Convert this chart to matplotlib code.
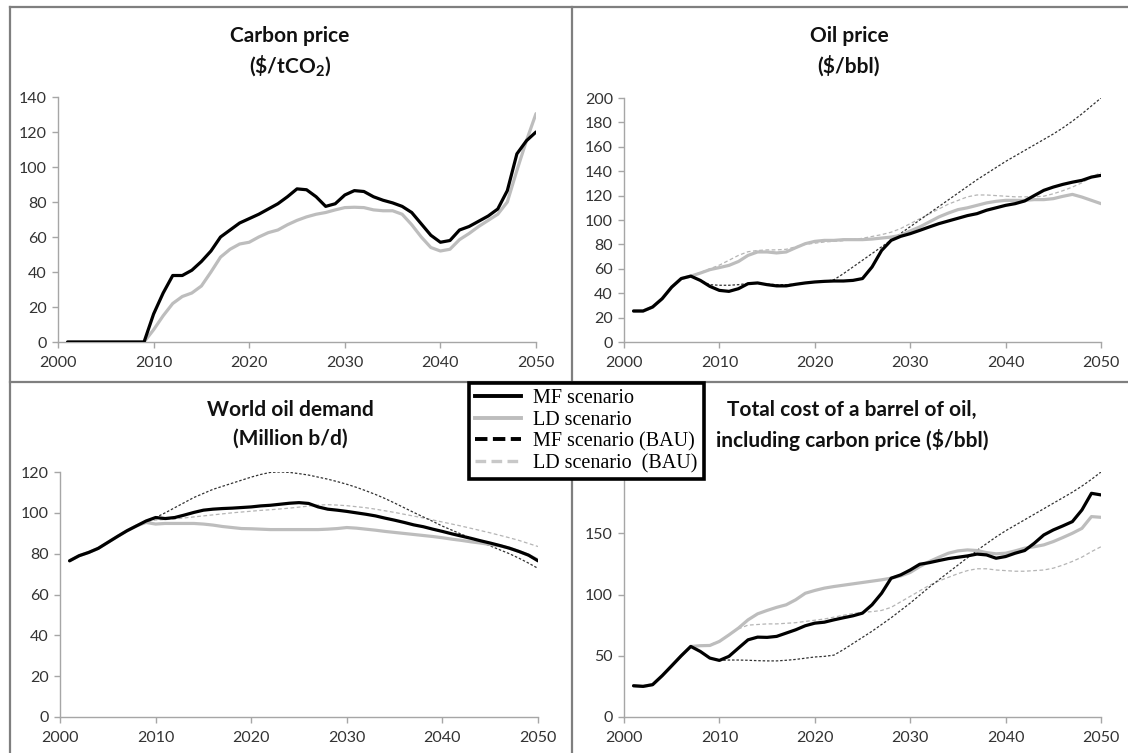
import numpy as np
import matplotlib
matplotlib.use('Agg')
import matplotlib.pyplot as plt
from matplotlib.lines import Line2D

plt.rcParams['font.family'] = ['Lato', 'DejaVu Sans']
plt.rcParams['mathtext.fontset'] = 'custom'
plt.rcParams['mathtext.rm'] = 'Lato'
plt.rcParams['mathtext.bf'] = 'Lato:bold'

years = np.arange(2001, 2051)

# Carbon price ($/tCO2)
carbon_mf = [0, 0, 0, 0, 0, 0, 0, 0, 0,
             16, 28, 38, 38, 41, 46, 52, 60, 64, 68,
             70.5, 73, 76, 79, 83, 87.5, 87, 83, 77.5, 79,
             84, 86.5, 86, 83, 81, 79.5, 77.5, 74, 67.5, 61,
             57, 58, 64, 66, 69, 72, 76, 86.5, 107.5, 115,
             120]
carbon_ld = [0, 0, 0, 0, 0, 0, 0, 0, 0,
             7, 15, 22, 26, 28, 32, 40, 48.5, 53, 56,
             57, 60, 62.5, 64, 67, 69.5, 71.5, 73, 74, 75.5,
             76.8, 77, 76.8, 75.5, 75, 75, 73, 67, 60, 54,
             52, 53, 58.5, 62, 66, 69.5, 73, 80, 98, 115,
             130.5]

# Oil price ($/bbl)
oil_mf = [25.4, 25.4, 28.7, 35.5, 45, 52, 54, 50.5, 45.6,
          42.3, 41.5, 43.7, 47.8, 48.4, 47, 46, 46, 47.3, 48.4,
          49.2, 49.7, 50, 50, 50.5, 52, 61.5, 75, 83.3, 86.6,
          88.8, 91.5, 94.3, 97, 99.2, 101.4, 103.6, 105.2, 108, 110,
          112, 113.4, 115.6, 120, 124.3, 127, 129.2, 131, 132.5, 135.2,
          136.6]
oil_ld = [25.4, 25.4, 28.7, 35.5, 45, 52, 54, 56.5, 59.3,
          61, 62.8, 66, 71, 73.8, 73.8, 73, 73.8, 77.3, 80.6,
          82.5, 83.3, 83.3, 83.9, 83.9, 83.9, 84.4, 85.2, 86, 87.4,
          91, 94.3, 98.4, 102.5, 105.7, 108.5, 110, 112, 114, 115.3,
          116.1, 116.1, 116.1, 116.7, 116.7, 117.5, 119.4, 121, 118.8, 116.1,
          113.4]
oil_mf_bau = [25.4, 25.4, 28.7, 35.5, 45, 52, 54, 50.5, 47,
              46.5, 46.5, 47, 48, 48, 47.5, 47, 47, 47.5, 48.5,
              49, 49.5, 51, 56, 61.5, 67, 72.5, 78, 83.5, 89,
              94.5, 100, 105.5, 111, 116.5, 122, 127.5, 133, 138, 143,
              148, 152.5, 157, 161.5, 166, 170.5, 175.5, 181, 187, 193.5,
              200]
oil_ld_bau = [25.4, 25.4, 28.7, 35.5, 45, 52, 54, 57, 60,
              63, 67, 71, 74, 75, 75.5, 75.5, 76, 78, 80,
              81, 82, 82.5, 83, 84, 85, 86.5, 88, 90, 93,
              97, 101, 105, 109, 113, 116, 119, 120.5, 120.5, 120,
              119.5, 119, 119, 119, 119.5, 121.5, 124, 127, 130.5, 135,
              139]

# World oil demand (Million b/d)
dem_mf = [76.5, 79, 80.6, 82.6, 85.5, 88.4, 91.2, 93.6, 96,
          97.7, 97.2, 97.7, 98.9, 100.2, 101.3, 101.8, 102.1, 102.3, 102.6,
          102.9, 103.4, 103.7, 104.2, 104.7, 105, 104.6, 102.9, 101.8, 101.3,
          100.7, 100, 99.3, 98.5, 97.4, 96.4, 95.3, 94.1, 93.2, 92,
          90.9, 89.7, 88.6, 87.5, 86.3, 85.2, 84, 82.7, 81.1, 79.3,
          76.5]
dem_ld = [76.5, 79, 80.6, 82.6, 85.5, 88.4, 91.2, 93.6, 95.3,
          94.5, 94.8, 94.8, 94.8, 94.8, 94.5, 94, 93.3, 92.8, 92.3,
          92.2, 92, 91.8, 91.8, 91.8, 91.8, 91.8, 91.8, 92, 92.3,
          92.8, 92.5, 92, 91.5, 90.9, 90.4, 89.9, 89.4, 88.9, 88.4,
          87.8, 87.1, 86.5, 85.8, 85.2, 84.5, 83.9, 82.7, 81.1, 79.3,
          76.9]
dem_mf_bau = [76.5, 79, 80.6, 82.6, 85.5, 88.4, 91.2, 93.6, 96,
              97.7, 100, 102.5, 105, 107.5, 109.5, 111.5, 113, 114.5, 116,
              117.5, 118.8, 119.8, 120, 119.8, 119.2, 118.5, 117.5, 116.5, 115.3,
              114, 112.5, 110.8, 109, 107, 104.8, 102.5, 100.2, 98, 95.8,
              93.5, 91.5, 89.5, 87.6, 85.7, 83.8, 81.9, 80, 77.8, 75.4,
              72.8]
dem_ld_bau = [76.5, 79, 80.6, 82.6, 85.5, 88.4, 91.2, 93.6, 95.5,
              96.5, 96.7, 97, 97.5, 98, 98.5, 99, 99.5, 100, 100.4,
              100.8, 101.2, 101.5, 101.9, 102.3, 102.8, 103.3, 103.8, 104, 103.8,
              103.5, 103, 102.5, 101.8, 101, 100.2, 99.3, 98.4, 97.5, 96.5,
              95.5, 94.5, 93.5, 92.4, 91.3, 90.2, 89, 87.8, 86.5, 85,
              83.5]

# Total cost of a barrel incl. carbon price ($/bbl)
tot_mf = [25.5, 25, 26.4, 33.7, 41.8, 50, 57.6, 53.5, 48.1,
          46.2, 49.5, 56.3, 63, 65.2, 65, 65.8, 68.5, 71.2, 74.5,
          76.6, 77.4, 79.3, 81, 82.6, 84.8, 91.6, 101, 113.3, 116,
          120, 124.7, 126, 127.7, 129.3, 130.4, 131.5, 133, 132.3, 129.6,
          131, 133.7, 135.9, 141.8, 148.6, 152.7, 156, 159.5, 169, 182.6,
          181.3]
tot_ld = [25.5, 25, 26.4, 33.7, 41.8, 50, 57.6, 58.2, 58.4,
          61.7, 67, 72.6, 79.3, 84.2, 87, 89.5, 91.6, 95.7, 101,
          103.3, 105.2, 106.5, 107.6, 108.7, 109.8, 110.9, 112, 113.3, 115.2,
          118, 122.8, 126.9, 130.4, 133.7, 135.6, 136.4, 135.9, 134.2, 133.2,
          133.7, 135.6, 137.8, 139, 140.5, 143.2, 146.5, 150, 154, 163.6,
          163]
tot_mf_bau = [25.5, 25, 26.4, 33.7, 41.8, 50, 57.6, 53.5, 48.1,
              46.2, 46.5, 46.5, 46.3, 46, 45.8, 45.8, 46.3, 47, 48,
              49, 49.5, 50.5, 55, 60, 65, 70, 75.5, 81, 87,
              93, 99.5, 106, 112, 118, 124, 130, 136, 141.5, 147,
              152, 156.5, 161, 165.5, 170, 174.5, 179, 183.5, 188.5, 194,
              200]
tot_ld_bau = [25.5, 25, 26.4, 33.7, 41.8, 50, 57.6, 58, 59,
              62, 67, 72, 75, 75.5, 76, 76, 76.5, 77, 78,
              79, 80, 81.5, 83, 84.5, 85.5, 86, 87, 89.5, 94,
              98.5, 103, 107.5, 111, 114, 117, 119.5, 121, 121, 120,
              119.5, 119, 119, 119.5, 120, 121.5, 124, 127, 130.5, 135,
              139]

W, H = 1128, 753
fig = plt.figure(figsize=(W / 100, H / 100), dpi=100)

MF_C = '#000000'
LD_C = '#bdbdbd'


def px_axes(x0, x1, ytop, ybot):
    return fig.add_axes([x0 / W, 1 - ybot / H, (x1 - x0) / W, (ybot - ytop) / H])


def style(ax, ymax, ystep):
    ax.set_xlim(2000, 2050)
    ax.set_ylim(0, ymax)
    ax.set_xticks(range(2000, 2051, 10))
    ax.set_yticks(np.arange(0, ymax + 0.1, ystep))
    for s in ['top', 'right']:
        ax.spines[s].set_visible(False)
    for s in ['left', 'bottom']:
        ax.spines[s].set_color('#a6a6a6')
        ax.spines[s].set_linewidth(1.0)
    ax.tick_params(axis='both', direction='out', length=4, width=1.0,
                   color='#a6a6a6', labelcolor='#333333', labelsize=11.5)
    ax.tick_params(axis='y', pad=4)
    ax.tick_params(axis='x', pad=6)
    ax.patch.set_alpha(0)


def draw(ax, mf, ld, mf_bau=None, ld_bau=None):
    if ld_bau is not None:
        ax.plot(years, ld_bau, color='#b5b5b5', lw=0.9, ls=(0, (3, 2)), zorder=2)
    if mf_bau is not None:
        ax.plot(years, mf_bau, color='#333333', lw=0.9, ls=(0, (2, 1.5)), zorder=2)
    ax.plot(years, ld, color=LD_C, lw=2.3, zorder=3, solid_capstyle='round')
    ax.plot(years, mf, color=MF_C, lw=2.3, zorder=4, solid_capstyle='round')


ax1 = px_axes(58, 536, 97, 342)
style(ax1, 140, 20)
draw(ax1, carbon_mf, carbon_ld)

ax2 = px_axes(624, 1101, 98, 342)
style(ax2, 200, 20)
draw(ax2, oil_mf, oil_ld, oil_mf_bau, oil_ld_bau)

ax3 = px_axes(60, 538, 472, 717)
style(ax3, 120, 20)
draw(ax3, dem_mf, dem_ld, dem_mf_bau, dem_ld_bau)

ax4 = px_axes(624, 1101, 472, 717)
style(ax4, 200, 50)
# the top label sits under the legend in the original, so leave it blank
ax4.set_yticklabels(['0', '50', '100', '150', ''])
draw(ax4, tot_mf, tot_ld, tot_mf_bau, tot_ld_bau)

# panel titles
tkw = dict(ha='center', va='center', fontsize=15, fontweight='bold', color='#111111')
fig.text(290 / W, 1 - 36 / H, 'Carbon price', **tkw)
fig.text(290 / W, 1 - 66 / H, r'(\$/tCO$_{\mathbf{2}}$)', **tkw)
fig.text(849 / W, 1 - 36 / H, 'Oil price', **tkw)
fig.text(849 / W, 1 - 66 / H, '($/bbl)', **tkw)
fig.text(290 / W, 1 - 410 / H, 'World oil demand', **tkw)
fig.text(290 / W, 1 - 439 / H, '(Million b/d)', **tkw)
fig.text(852 / W, 1 - 410 / H, 'Total cost of a barrel of oil,', **tkw)
fig.text(852 / W, 1 - 440 / H, 'including carbon price ($/bbl)', **tkw)

# panel frame lines
fkw = dict(color='#7f7f7f', lw=1.6, transform=fig.transFigure, zorder=0)
fig.add_artist(Line2D([10 / W, 1], [1 - 7 / H, 1 - 7 / H], **fkw))
fig.add_artist(Line2D([10 / W, 10 / W], [1 - 7 / H, 0], **fkw))
fig.add_artist(Line2D([572 / W, 572 / W], [1 - 7 / H, 0], **fkw))
fig.add_artist(Line2D([10 / W, 1], [1 - 382 / H, 1 - 382 / H], **fkw))

# legend
handles = [
    Line2D([], [], color='black', lw=2.8),
    Line2D([], [], color=LD_C, lw=2.8),
    Line2D([], [], color='black', lw=2.8, ls=(0, (3.2, 1.4))),
    Line2D([], [], color='#c8c8c8', lw=2.4, ls=(0, (3.2, 1.6))),
]
labels = ['MF scenario', 'LD scenario', 'MF scenario (BAU)', 'LD scenario  (BAU)']
leg = fig.legend(handles, labels, loc='upper left',
                 bbox_to_anchor=(469 / W, 1 - 383 / H), borderaxespad=0,
                 prop={'family': 'Liberation Serif', 'size': 14.5},
                 frameon=True, fancybox=False, framealpha=1,
                 edgecolor='black', borderpad=0.3, labelspacing=0.12,
                 handlelength=2.3, handletextpad=0.6)
leg.get_frame().set_linewidth(2.6)
leg.set_zorder(10)

fig.savefig('out.png', dpi=100)
